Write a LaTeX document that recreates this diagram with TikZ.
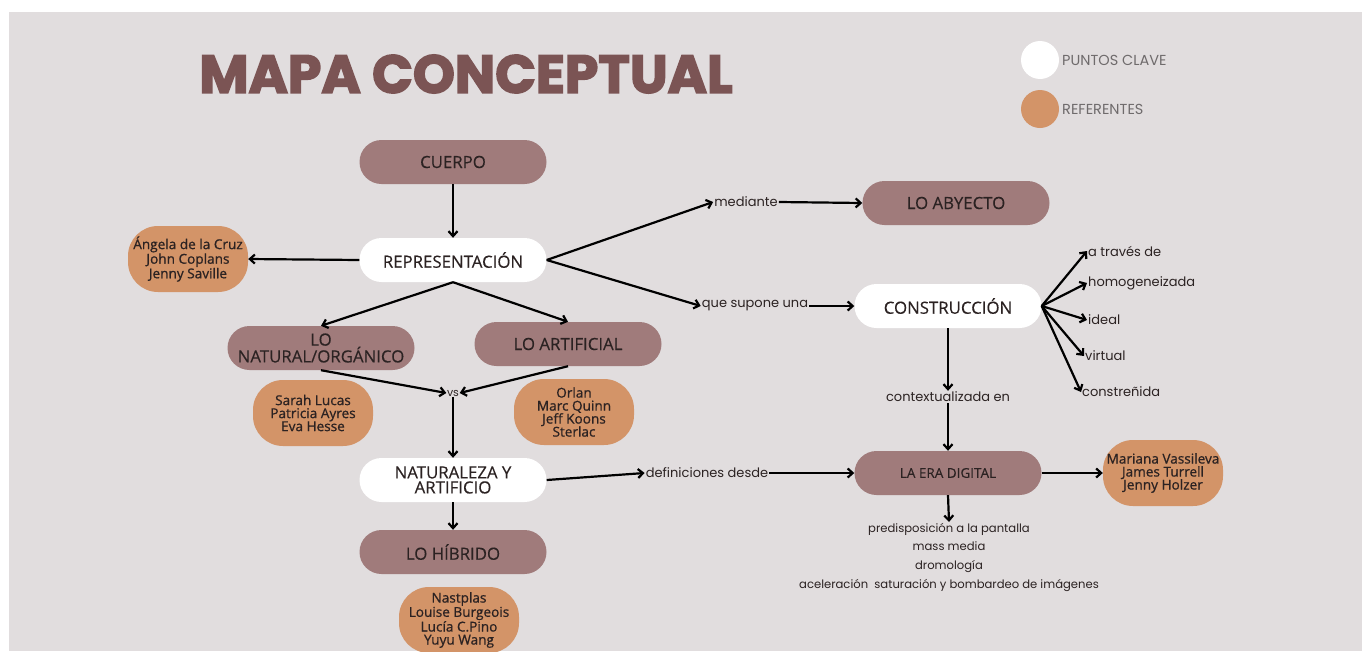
\documentclass[tikz,border=0pt]{standalone}
\usepackage{fontspec}
\setmainfont{Open Sans}
\newfontfamily\nodefont{Open Sans}[FakeBold=0.3]
\newfontfamily\reffont{Open Sans}[FakeBold=0.8]
\newfontfamily\titlefont{Poppins}[BoldFeatures={FakeBold=3}]
\newfontfamily\labfont{Poppins}
\usetikzlibrary{arrows.meta}
\definecolor{bgc}{HTML}{E1DDDE}
\definecolor{mauve}{HTML}{A07B7B}
\definecolor{orng}{HTML}{D39468}
\definecolor{ttl}{HTML}{7B5454}
\definecolor{txt}{HTML}{2B2222}
\definecolor{leg}{HTML}{6F6B6C}
\tikzset{
  pill/.style={rounded corners=22pt, minimum width=187pt, minimum height=44pt, inner sep=0pt, align=center, font=\nodefont\fontsize{16.8}{15}\selectfont, text=txt},
  keybox/.style={pill, fill=white},
  topicbox/.style={pill, fill=mauve},
  refbox/.style={fill=orng, rounded corners=30pt, minimum width=120pt, minimum height=66pt, inner sep=0pt, align=center, font=\reffont\fontsize{13.6}{13}\selectfont, text=txt},
  lab/.style={font=\labfont\fontsize{13}{18}\selectfont, text=txt, inner sep=1pt},
  arr/.style={draw=black, line width=2.2pt, -{Straight Barb[length=5pt,width=9pt,line width=2.2pt]}}
}
\begin{document}
\begin{tikzpicture}[x=1pt,y=-1pt]
\useasboundingbox (0,0) rectangle (1362,651);
\fill[white] (0,0) rectangle (1362,651);
\fill[bgc] (9,12) rectangle (1362,651);
% title
\node[text=ttl, inner sep=0pt] (title) at (466,74) {\resizebox{533pt}{!}{\titlefont\bfseries MAPA CONCEPTUAL}};
% legend
\fill[white] (1040,60) circle (19);
\fill[orng] (1040,109) circle (19);
\node[anchor=west, inner sep=0pt, text=leg, font=\labfont\fontsize{14.5}{15}\selectfont] (lg1) at (1062,60) {PUNTOS CLAVE};
\node[anchor=west, inner sep=0pt, text=leg, font=\labfont\fontsize{14.5}{15}\selectfont] (lg2) at (1062,109) {REFERENTES};
% nodes
\node[topicbox] (cuerpo) at (453,162) {CUERPO};
\node[keybox] (repr) at (453,260) {REPRESENTACIÓN};
\node[refbox] (angela) at (188,259) {Ángela de la Cruz\\John Coplans\\Jenny Saville};
\node[topicbox] (natural) at (321,348) {LO\\NATURAL/ORGÁNICO};
\node[topicbox] (artificial) at (568,344) {LO ARTIFICIAL};
\node[refbox] (sarah) at (313,413) {Sarah Lucas\\Patricia Ayres\\Eva Hesse};
\node[refbox] (orlan) at (574,412) {Orlan\\Marc Quinn\\Jeff Koons\\Sterlac};
\node[lab, font=\labfont\fontsize{11}{12}\selectfont, inner sep=0.5pt] (vs) at (453,393) {vs};
\node[keybox] (naturaleza) at (453,480) {NATURALEZA Y\\ARTIFICIO};
\node[topicbox] (hibrido) at (453,552) {LO HÍBRIDO};
\node[refbox] (nastplas) at (459,620) {Nastplas\\Louise Burgeois\\Lucía C.Pino\\Yuyu Wang};
\node[lab] (mediante) at (746,202) {mediante};
\node[topicbox] (abyecto) at (956,203) {LO ABYECTO};
\node[lab] (quesupone) at (755,306) {que supone una};
\node[keybox] (construccion) at (948,306) {CONSTRUCCIÓN};
\node[lab, anchor=west] (atraves) at (1087,251) {a través de};
\node[lab, anchor=west] (homog) at (1087,283) {homogeneizada};
\node[lab, anchor=west] (ideal) at (1087,320) {ideal};
\node[lab, anchor=west] (virtual) at (1084,356) {virtual};
\node[lab, anchor=west] (constr) at (1081,392) {constreñida};
\node[lab] (context) at (948,397) {contextualizada en};
\node[lab] (definiciones) at (707,473) {definiciones desde};
\node[topicbox, font=\nodefont\fontsize{13.5}{14}\selectfont] (era) at (948,473) {LA ERA DIGITAL};
\node[refbox] (mariana) at (1163,473) {Mariana Vassileva\\James Turrell\\Jenny Holzer};
\node[lab, font=\labfont\fontsize{11.6}{18.6}\selectfont, align=center, anchor=north] (eralist) at (949,522) {predisposición a la pantalla\\mass media\\dromología\\aceleración~ saturación y bombardeo de imágenes};
% connectors
\draw[arr] (cuerpo.south) -- (repr.north);
\draw[arr] (repr.west) -- (angela.east);
\draw[arr] (repr.south) -- (natural.north);
\draw[arr] (repr.south) -- (artificial.north);
\draw[arr] (natural.south) -- (vs.west);
\draw[arr] (artificial.south) -- (vs.east);
\draw[arr] (vs.south) -- (naturaleza.north);
\draw[arr] (naturaleza.south) -- (hibrido.north);
\draw[arr] (repr.east) -- (mediante.west);
\draw[arr] (mediante.east) -- (abyecto.west);
\draw[arr] (repr.east) -- (quesupone.west);
\draw[arr] (quesupone.east) -- (construccion.west);
\draw[arr] (construccion.east) -- (atraves.west);
\draw[arr] (construccion.east) -- (homog.west);
\draw[arr] (construccion.east) -- (ideal.west);
\draw[arr] (construccion.east) -- (virtual.west);
\draw[arr] (construccion.east) -- (constr.west);
\draw[arr] (construccion.south) -- (context.north);
\draw[arr] (context.south) -- (era.north);
\draw[arr] (naturaleza.east) -- (definiciones.west);
\draw[arr] (definiciones.east) -- (era.west);
\draw[arr] (era.east) -- (mariana.west);
\draw[arr] (era.south) -- (eralist.north);
\end{tikzpicture}
\end{document}
